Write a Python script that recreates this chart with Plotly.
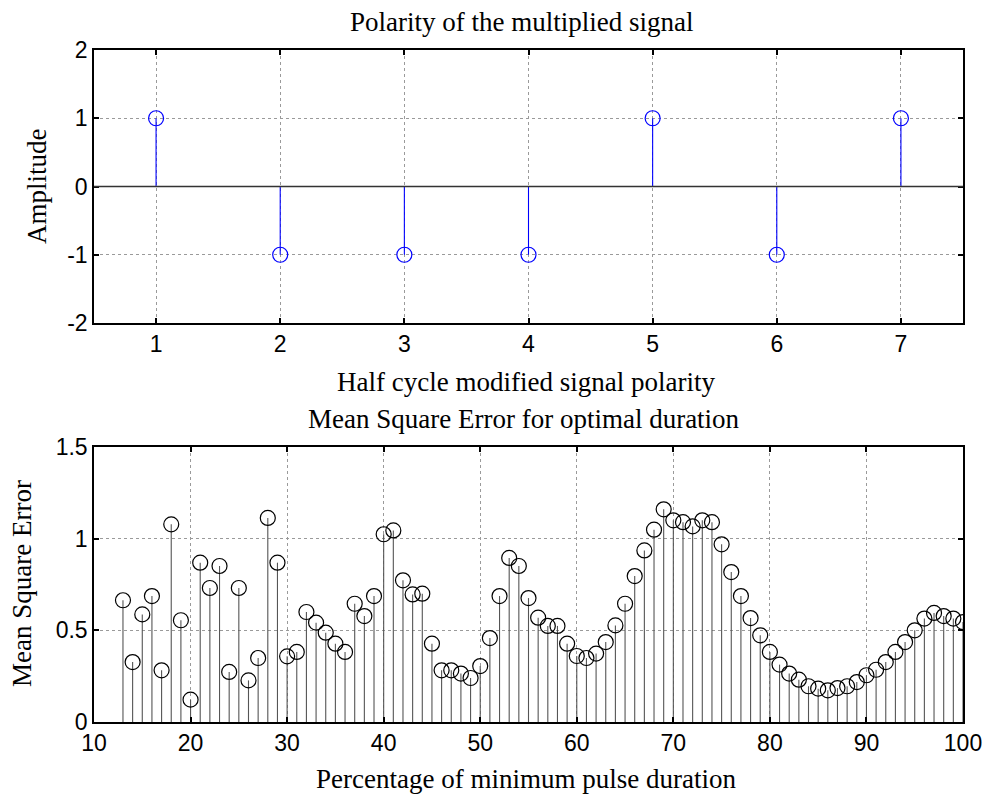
import plotly.graph_objects as go

# ---- data ----
pol_x = [1, 2, 3, 4, 5, 6, 7]
pol_y = [1, -1, -1, -1, 1, -1, 1]

mse_x = list(range(13, 101))
mse_y = [0.664, 0.327, 0.587, 0.687, 0.282, 1.078, 0.555, 0.122, 0.869, 0.731,
         0.851, 0.273, 0.731, 0.227, 0.349, 1.113, 0.869, 0.358, 0.382, 0.600,
         0.542, 0.487, 0.427, 0.382, 0.645, 0.578, 0.687, 1.024, 1.045, 0.773,
         0.696, 0.700, 0.427, 0.282, 0.282, 0.264, 0.240, 0.305, 0.458, 0.687,
         0.895, 0.851, 0.676, 0.569, 0.524, 0.524, 0.427, 0.360, 0.349, 0.373,
         0.436, 0.527, 0.645, 0.796, 0.936, 1.049, 1.160, 1.100, 1.090, 1.067,
         1.100, 1.090, 0.969, 0.818, 0.687, 0.567, 0.473, 0.382, 0.313, 0.264,
         0.231, 0.195, 0.182, 0.173, 0.185, 0.195, 0.218, 0.255, 0.285, 0.327,
         0.382, 0.436, 0.500, 0.564, 0.595, 0.578, 0.564, 0.545]

top_title = "Polarity of the multiplied signal"
top_xlabel = "Half cycle modified signal polarity"
top_ylabel = "Amplitude"
bot_title = "Mean Square Error for optimal duration"
bot_xlabel = "Percentage of minimum pulse duration"
bot_ylabel = "Mean Square Error"

top_xticks = [1, 2, 3, 4, 5, 6, 7]
top_yticks = [-2, -1, 0, 1, 2]
top_yticklabels = ["-2", "-1", "0", "1", "2"]
bot_xticks = [10, 20, 30, 40, 50, 60, 70, 80, 90, 100]
bot_yticks = [0, 0.5, 1, 1.5]
bot_yticklabels = ["0", "0.5", "1", "1.5"]

W, H = 986, 796
SANS = "Liberation Sans, Arial, sans-serif"
SERIF = "Liberation Serif, Times New Roman, serif"


def stems(xs, ys):
    sx, sy = [], []
    for a, b in zip(xs, ys):
        sx += [a, a, None]
        sy += [0, b, None]
    return sx, sy


fig = go.Figure()

# top stems
sx, sy = stems(pol_x, pol_y)
fig.add_trace(go.Scatter(x=sx, y=sy, mode="lines", line=dict(color="#0000ff", width=1.1),
                         xaxis="x", yaxis="y", hoverinfo="skip", showlegend=False))
fig.add_trace(go.Scatter(x=pol_x, y=pol_y, mode="markers",
                         marker=dict(symbol="circle-open", size=15, color="#0000ff",
                                     line=dict(width=1.2, color="#0000ff")),
                         xaxis="x", yaxis="y", showlegend=False))

# bottom stems
sx, sy = stems(mse_x, mse_y)
fig.add_trace(go.Scatter(x=sx, y=sy, mode="lines", line=dict(color="#555555", width=1.1),
                         xaxis="x2", yaxis="y2", hoverinfo="skip", showlegend=False))
fig.add_trace(go.Scatter(x=mse_x, y=mse_y, mode="markers",
                         marker=dict(symbol="circle-open", size=15, color="#000000",
                                     line=dict(width=1.2, color="#000000")),
                         xaxis="x2", yaxis="y2", showlegend=False))

# baseline for top stem plot
fig.add_shape(type="line", xref="x domain", yref="y", x0=0, x1=1, y0=0, y1=0,
              line=dict(color="#333333", width=1.5), layer="above")

xd = [94 / W, 963 / W]
yd_top = [1 - 323 / H, 1 - 50 / H]
yd_bot = [1 - 722 / H, 1 - 447 / H]

axis_common = dict(showline=True, linecolor="black", linewidth=1.5, mirror="allticks",
                   ticks="inside", ticklen=5, tickcolor="black", tickwidth=1.5,
                   showgrid=True, gridcolor="#9a9a9a", griddash="dot", gridwidth=1,
                   zeroline=False, automargin=False,
                   tickfont=dict(family=SANS, size=23, color="black"))

fig.update_layout(
    template="none",
    width=W, height=H,
    margin=dict(l=0, r=0, t=0, b=0, autoexpand=False),
    paper_bgcolor="white", plot_bgcolor="white",
    xaxis=dict(domain=xd, anchor="y", range=[0.5, 7.5], tickvals=top_xticks, **axis_common),
    yaxis=dict(domain=yd_top, anchor="x", range=[-2, 2], tickvals=top_yticks,
               ticktext=top_yticklabels, **axis_common),
    xaxis2=dict(domain=xd, anchor="y2", range=[10, 100], tickvals=bot_xticks, **axis_common),
    yaxis2=dict(domain=yd_bot, anchor="x2", range=[0, 1.5], tickvals=bot_yticks,
                ticktext=bot_yticklabels, **axis_common),
)

def ann(text, x, y, size=27, angle=0):
    fig.add_annotation(text=text, x=x / W, y=1 - y / H, xref="paper", yref="paper",
                       xanchor="center", yanchor="middle", showarrow=False, textangle=angle,
                       font=dict(family=SERIF, size=size, color="black"))

ann(top_title, 521, 22)
ann(top_xlabel, 526, 382)
ann(top_ylabel, 37, 186, angle=-90)
ann(bot_title, 524, 419)
ann(bot_xlabel, 526, 779)
ann(bot_ylabel, 22, 584, angle=-90)

fig.write_html("out.html")
